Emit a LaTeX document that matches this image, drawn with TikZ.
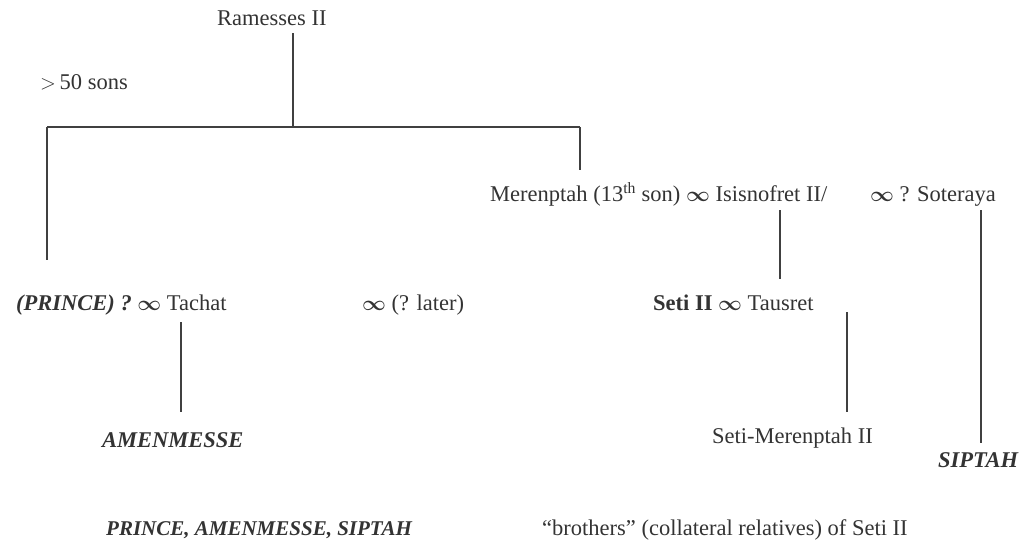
\documentclass[tikz,border=0pt]{standalone}
\usepackage{amsmath,amssymb,bm}
\usepackage{fontspec}
\setmainfont{Liberation Serif}
\newcommand{\marr}{$\bm{\infty}$}
\begin{document}
\begin{tikzpicture}[x=1pt,y=-1pt,
  lbl/.style={anchor=base west,inner sep=0pt,font=\fontsize{22.5}{26}\selectfont,text=black!80},
  link/.style={draw=black!75,line width=1.3pt}]
\useasboundingbox (0,0) rectangle (1019,555);
% nodes
\node[lbl] (ram) at (217,25) {Ramesses II};
\node[lbl] (sons) at (40,89) {$>$\,50 sons};
\node[lbl] (mer) at (490,201) {Merenptah (13\textsuperscript{th} son) \marr\ Isisnofret II/};
\node[lbl] (sot) at (870,201) {\marr\ ? Soteraya};
\node[lbl] (prince) at (16,310) {\textit{\textbf{(PRINCE)}} \textit{\textbf{?}} \marr\ Tachat};
\node[lbl] (later) at (362,310) {\marr\ (? later)};
\node[lbl] (seti) at (653,310) {\textbf{Seti II} \marr\ Tausret};
\node[lbl] (amen) at (102,447) {\textit{\textbf{AMENMESSE}}};
\node[lbl] (setimer) at (712,443) {Seti-Merenptah II};
\node[lbl] (sip) at (938,467) {\textit{\textbf{SIPTAH}}};
\node[lbl,font=\fontsize{21}{24}\selectfont] (note1) at (106,535) {\textit{\textbf{PRINCE, AMENMESSE, SIPTAH}}};
\node[lbl] (note2) at (542,535) {``brothers'' (collateral relatives) of Seti II};
% junction coordinates
\coordinate (ramB) at (293,33);
\coordinate (bar) at (293,127);
\coordinate (barL) at (47,127);
\coordinate (barR) at (580,127);
\coordinate (princeT) at (47,260);
\coordinate (merT) at (580,170);
\coordinate (isisB) at (780,210);
\coordinate (setiT) at (780,279);
\coordinate (sotB) at (981,210);
\coordinate (sipT) at (981,443);
\coordinate (tachB) at (181,322);
\coordinate (amenT) at (181,412);
\coordinate (tausB) at (847,312);
\coordinate (setimerT) at (847,412);
% connectors
\draw[link] (ramB) -- (bar);
\draw[link] (barL) -- (barR);
\draw[link] (barL) -- (princeT);
\draw[link] (barR) -- (merT);
\draw[link] (isisB) -- (setiT);
\draw[link] (sotB) -- (sipT);
\draw[link] (tachB) -- (amenT);
\draw[link] (tausB) -- (setimerT);
\end{tikzpicture}
\end{document}
